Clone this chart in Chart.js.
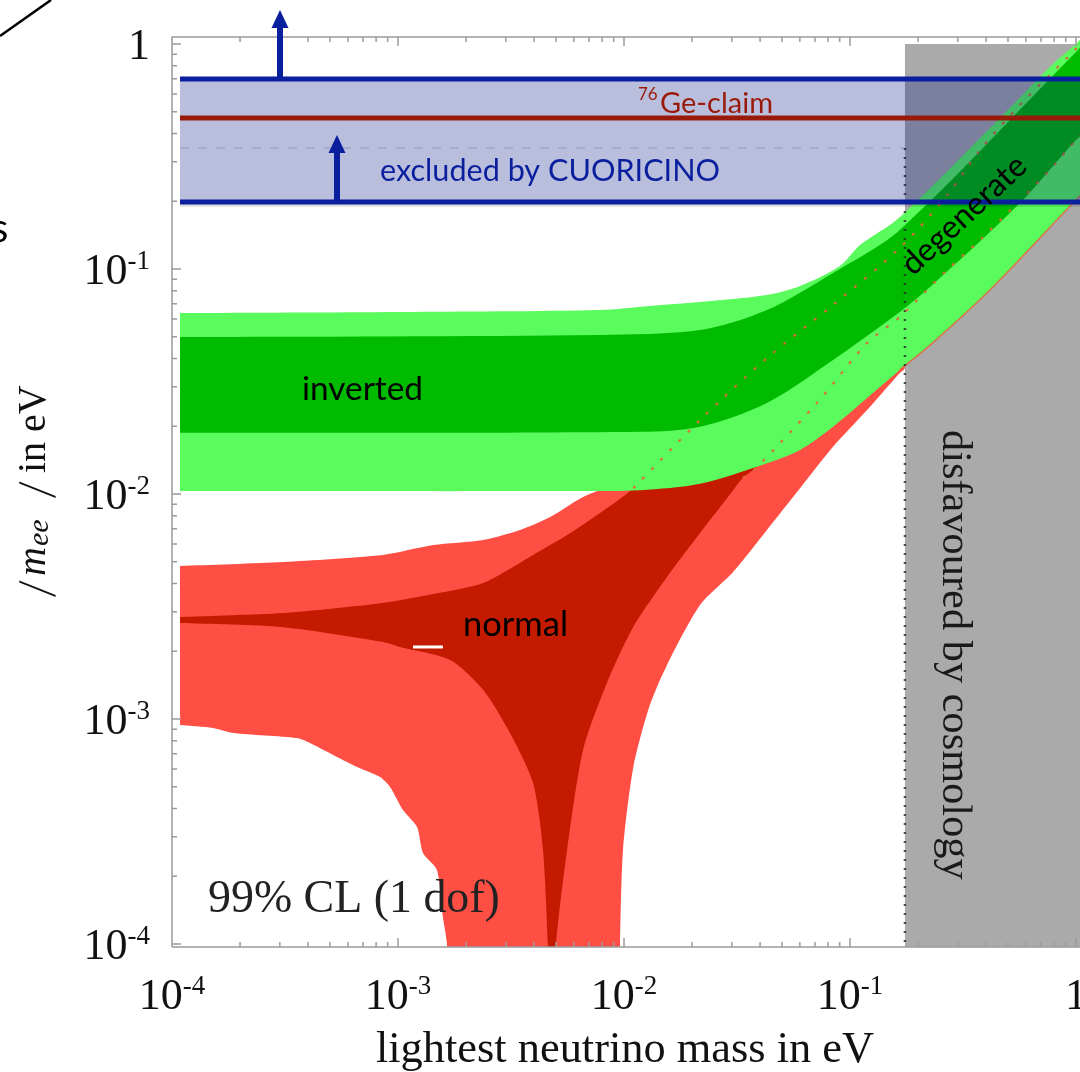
<!DOCTYPE html>
<html lang="en">
<head>
<meta charset="UTF-8">
<title>effective Majorana mass vs lightest neutrino mass</title>
<style>
  html, body { margin: 0; padding: 0; background: #fff; overflow: hidden; }
  #wrap { width: 1080px; height: 1072px; overflow: hidden; }
</style>
</head>
<body>
<div id="wrap"><canvas id="mee_chart" width="1100" height="1072"></canvas></div>
<script src="https://cdn.jsdelivr.net/npm/chart.js@4.4.1/dist/chart.umd.min.js"></script>
<script>
// axis ranges in eV
const massMin = 1e-4, massMax = 1.107;
const meeMin = 0.97e-4, meeMax = 1.074;
const decadeTicks = [1e-4, 1e-3, 1e-2, 1e-1, 1];
const tickBase = ['10', '10', '10', '10', '1'];
const tickExp = ['-4', '-3', '-2', '-1', ''];
const minorSteps = [1, 2, 3, 4, 5, 6, 7, 8, 9];

// inverted hierarchy, outer (light green) and inner (dark green) bands
// upper edges left -> right, lower edges right -> left
const inv3Upper = [[1.085e-4, 0.0637], [1.02e-3, 0.0644], [7.83e-3, 0.0657], [1.30e-2, 0.0685], [2.17e-2, 0.0714],
  [4.29e-2, 0.0766], [6.01e-2, 0.0840], [9.03e-2, 0.1031], [0.111, 0.128], [0.166, 0.170], [0.461, 0.469],
  [0.791, 0.815], [1.0, 1.0], [1.2, 1.2]];
const inv3Lower = [[1.2, 0.24], [1.0, 0.2026], [0.416, 0.0807], [0.226, 0.0459], [0.166, 0.0356], [8.41e-2, 0.0199],
  [6.01e-2, 0.0157], [4.29e-2, 0.0137], [2.17e-2, 0.0111], [1.18e-2, 0.0104], [6.38e-3, 0.0103], [1.085e-4, 0.0103]];
const inv1Upper = [[1.085e-4, 0.0498], [7.83e-3, 0.0509], [2.17e-2, 0.0535], [4.29e-2, 0.0657], [8.41e-2, 0.0960],
  [0.166, 0.149], [1.0, 0.921], [1.2, 1.1]];
const inv1Lower = [[1.2, 0.44], [1.0, 0.3745], [0.565, 0.1965], [0.226, 0.0832], [0.166, 0.0644], [8.41e-2, 0.0394],
  [4.29e-2, 0.0254], [2.17e-2, 0.0199], [1.18e-2, 0.0189], [1.085e-4, 0.0187]];

// normal hierarchy, outer (light red) and inner (dark red) bands
// (the bottom corners run a little below the axis so they are clipped square)
const norm3Upper = [[1.085e-4, 0.00479], [3.10e-4, 0.00499], [8.58e-4, 0.00536], [1.43e-3, 0.00593], [2.38e-3, 0.00625],
  [3.47e-3, 0.00692], [4.71e-3, 0.0079], [6.59e-3, 0.0097], [9.90e-3, 0.0115], [2.17e-2, 0.0213], [4.29e-2, 0.0402],
  [8.41e-2, 0.0692], [0.175, 0.1305]];
const norm3Lower = [[0.175, 0.0363], [0.166, 0.0345], [0.119, 0.0236], [8.41e-2, 0.0162], [6.01e-2, 0.0106],
  [4.29e-2, 0.00692], [3.04e-2, 0.0045], [2.17e-2, 0.00321], [1.55e-2, 0.00174], [1.30e-2, 0.00115], [1.10e-2, 0.000612],
  [9.90e-3, 0.000262], [9.60e-3, 1e-4], [9.55e-3, 6e-5], [1.66e-3, 6e-5], [1.647e-3, 1e-4], [1.58e-3, 1.32e-4],
  [1.488e-3, 2.13e-4], [1.29e-3, 2.54e-4], [1.214e-3, 3.31e-4], [1.052e-3, 3.94e-4], [9.22e-4, 4.99e-4], [8.33e-4, 5.52e-4],
  [6.59e-4, 6.12e-4], [5.37e-4, 6.78e-4], [4.08e-4, 7.82e-4], [3.57e-4, 8.23e-4], [1.862e-4, 8.67e-4], [1.518e-4, 9.12e-4],
  [1.085e-4, 9.40e-4]];
const norm1Upper = [[1.085e-4, 0.00284], [3.10e-4, 0.00296], [8.58e-4, 0.00328], [1.43e-3, 0.00359], [2.38e-3, 0.00402],
  [3.96e-3, 0.00536], [5.60e-3, 0.00657], [7.83e-3, 0.00823], [1.10e-2, 0.0106], [2.17e-2, 0.0213], [4.29e-2, 0.0402],
  [8.41e-2, 0.0692], [0.166, 0.124], [0.175, 0.1305]];
const norm1Lower = [[0.175, 0.0644], [0.119, 0.0469], [7.14e-2, 0.0254], [3.88e-2, 0.0132], [3.36e-2, 0.0118],
  [3.04e-2, 0.0104], [2.17e-2, 0.00671], [1.55e-2, 0.00428], [1.10e-2, 0.00257], [8.41e-3, 0.00145], [6.59e-3, 0.000728],
  [5.60e-3, 0.000262], [5.0e-3, 1e-4], [4.93e-3, 6e-5], [4.66e-3, 6e-5], [4.60e-3, 1e-4], [4.38e-3, 0.000262],
  [3.96e-3, 0.000519], [3.13e-3, 0.000867], [2.38e-3, 0.00135], [1.70e-3, 0.00183], [1.02e-3, 0.00209], [8.58e-4, 0.0022],
  [3.10e-4, 0.00256], [1.085e-4, 0.00267]];

// normal hierarchy edges seen through the inverted band (dotted)
const norm1UpperDotted = [[1.10e-2, 0.0106], [2.17e-2, 0.0213], [4.29e-2, 0.0402], [8.41e-2, 0.0692], [0.166, 0.124],
  [0.269, 0.213], [0.376, 0.338], [0.565, 0.536], [0.912, 0.867], [1.2, 1.15]];
const norm1LowerDotted = [[3.36e-2, 0.0118], [3.88e-2, 0.0132], [7.14e-2, 0.0254], [0.119, 0.0469], [0.166, 0.0612],
  [0.269, 0.099], [0.376, 0.1346], [0.744, 0.267], [1.0, 0.3745], [1.2, 0.44]];
const norm3EdgeInGray = [[0.166, 0.0356], [0.226, 0.0459], [0.416, 0.0807], [1.0, 0.2026], [1.2, 0.24]];
const whiteSpeck = [[1.165e-3, 0.00209], [1.58e-3, 0.00209]];

// limits
const cosmoLimit = 0.175;
const cosmoDashTop = 0.345;
const cuoricinoLow = 0.1985, cuoricinoHigh = 0.699, geClaim = 0.469;
const bandStart = 1.085e-4, bandEnd = 1.3;
const arrowMass = [3.005e-4, 5.37e-4];
const arrowBase = [0.699, 0.1985];
const arrowTip = [1.416, 0.394];

const toPoints = pairs => pairs.map(([x, y]) => ({x, y}));
const band = (upper, lower) => toPoints(upper.concat(lower));

function area(label, points, color, order, tension = 0) {
  return { label, data: points, fill: 'shape', backgroundColor: color, borderColor: 'rgba(0,0,0,0)',
    borderWidth: 0, pointRadius: 0, tension, order };
}
function curve(label, points, color, width, dash, order, tension = 0) {
  return { label, data: points, fill: false, borderColor: color, borderWidth: width, borderDash: dash,
    borderCapStyle: 'butt', pointRadius: 0, tension, order };
}

const grayBox = toPoints([[cosmoLimit, 5e-5], [cosmoLimit, 1.0], [bandEnd, 1.0], [bandEnd, 5e-5]]);
const blueBox = toPoints([[bandStart, cuoricinoLow], [bandStart, cuoricinoHigh], [bandEnd, cuoricinoHigh], [bandEnd, cuoricinoLow]]);
const shadowBox = toPoints([[bandStart, 0.189], [bandStart, cuoricinoLow], [bandEnd, cuoricinoLow], [bandEnd, 0.189]]);

const datasets = [
  area('normal 3', band(norm3Upper, norm3Lower), '#ff4f45', 30, 0.25),
  area('normal 1', band(norm1Upper, norm1Lower), '#c41b00', 29, 0.25),
  curve('speck', toPoints(whiteSpeck), '#ffffff', 3, [], 28),
  area('cosmology', grayBox, '#aaaaaa', 27),
  area('inverted 3', band(inv3Upper, inv3Lower), '#5afb5c', 25, 0.3),
  area('inverted 1', band(inv1Upper, inv1Lower), '#00bb00', 24, 0.3),
  curve('normal edge', toPoints(norm3EdgeInGray), 'rgba(232,100,60,0.85)', 1.5, [], 23, 0.3),
  curve('cosmo edge', toPoints([[cosmoLimit, cosmoDashTop], [cosmoLimit, 9e-5]]), 'rgba(40,40,40,0.8)', 2.5, [2, 7], 22),
  curve('normal upper', toPoints(norm1UpperDotted), '#e0683a', 2, [3, 10], 21, 0.3),
  curve('normal lower', toPoints(norm1LowerDotted), '#e0683a', 2, [3, 10], 20, 0.3),
  curve('grid', toPoints([[bandStart, cosmoDashTop], [cosmoLimit, cosmoDashTop]]), 'rgba(120,120,150,0.25)', 1.5, [9, 9], 19),
  area('shadow', shadowBox, 'rgba(0,0,0,0.13)', 18),
  area('CUORICINO', blueBox, 'rgba(0,15,130,0.27)', 17),
  curve('CUORICINO low', toPoints([[bandStart, cuoricinoLow], [bandEnd, cuoricinoLow]]), '#0a1f9e', 5, [], 16),
  curve('CUORICINO high', toPoints([[bandStart, cuoricinoHigh], [bandEnd, cuoricinoHigh]]), '#0a1f9e', 5, [], 15),
  curve('Ge claim', toPoints([[bandStart, geClaim], [bandEnd, geClaim]]), '#9a1a0a', 5, [], 14)
];

function fitFont(ctx, text, font, width) {
  ctx.font = font.replace('SIZE', '100px');
  return font.replace('SIZE', (100 * width / ctx.measureText(text).width).toFixed(1) + 'px');
}

function drawPow(ctx, base, exp, x, y, align) {
  ctx.font = '44px "Liberation Serif"';
  const wb = ctx.measureText(base).width;
  ctx.font = '27px "Liberation Serif"';
  const we = exp ? ctx.measureText(exp).width : 0;
  const left = align === 'right' ? x - wb - we : x - (wb + we) / 2;
  ctx.textAlign = 'left';
  ctx.font = '44px "Liberation Serif"';
  ctx.fillText(base, left, y);
  if (exp) {
    ctx.font = '27px "Liberation Serif"';
    ctx.fillText(exp, left + wb, y - 15);
  }
}

const decorations = {
  id: 'decorations',
  afterDatasetsDraw(chart) {
    const {ctx, chartArea: a, scales: {x, y}} = chart;
    ctx.save();

    // frame + inward ticks
    ctx.strokeStyle = '#9b9b9b';
    ctx.lineWidth = 1.5;
    ctx.beginPath();
    ctx.moveTo(a.left, a.bottom); ctx.lineTo(a.left, a.top); ctx.lineTo(a.right, a.top);
    ctx.moveTo(a.left, a.bottom); ctx.lineTo(a.right, a.bottom);
    decadeTicks.forEach(d => {
      minorSteps.forEach(k => {
        const v = d * k, len = k === 1 ? 9 : 5;
        if (v >= meeMin && v <= meeMax) {
          const py = y.getPixelForValue(v);
          ctx.moveTo(a.left, py); ctx.lineTo(a.left + len, py);
        }
        if (v >= massMin && v <= massMax) {
          const px = x.getPixelForValue(v);
          ctx.moveTo(px, a.top); ctx.lineTo(px, a.top + len);
          ctx.moveTo(px, a.bottom); ctx.lineTo(px, a.bottom - len);
        }
      });
    });
    ctx.stroke();

    // arrows on CUORICINO band
    ctx.fillStyle = ctx.strokeStyle = '#0a1f9e';
    ctx.lineWidth = 6;
    arrowMass.forEach((m, i) => {
      const px = x.getPixelForValue(m), p0 = y.getPixelForValue(arrowBase[i]), p1 = y.getPixelForValue(arrowTip[i]);
      ctx.beginPath(); ctx.moveTo(px, p0); ctx.lineTo(px, p1 + 14); ctx.stroke();
      ctx.beginPath(); ctx.moveTo(px, p1); ctx.lineTo(px - 8.5, p1 + 18); ctx.lineTo(px + 8.5, p1 + 18);
      ctx.closePath(); ctx.fill();
    });

    // tick labels
    ctx.fillStyle = '#111';
    decadeTicks.forEach((d, i) => {
      drawPow(ctx, tickBase[i], tickExp[i], x.getPixelForValue(d), 1009, 'center');
      drawPow(ctx, tickBase[i], tickExp[i], 150, y.getPixelForValue(d) + 15, 'right');
    });

    // axis titles
    ctx.textAlign = 'center';
    ctx.font = fitFont(ctx, 'lightest neutrino mass in eV', 'SIZE "Liberation Serif"', 498);
    ctx.fillText('lightest neutrino mass in eV', 625, 1062);

    ctx.save();
    ctx.translate(45, 603);
    ctx.rotate(-Math.PI / 2);
    ctx.textAlign = 'left';
    const bar = off => {
      ctx.save(); ctx.translate(off, 0); ctx.transform(1, 0, -0.4, 1, 0, 0);
      ctx.font = 'italic 40px "Liberation Serif"'; ctx.fillText('|', 0, 2); ctx.restore();
    };
    bar(5);
    ctx.font = 'italic 40px "Liberation Serif"'; ctx.fillText('m', 27, 0);
    ctx.font = 'italic 30px "Liberation Serif"'; ctx.fillText('ee', 57, 3);
    bar(104);
    ctx.font = '40px "Liberation Serif"'; ctx.fillText('in eV', 130, 0);
    ctx.restore();

    // annotations
    ctx.textAlign = 'left';
    ctx.fillStyle = '#000';
    ctx.font = fitFont(ctx, 'inverted', 'SIZE Lato', 121);
    ctx.fillText('inverted', 302, 400);
    ctx.font = fitFont(ctx, 'normal', 'SIZE Lato', 105);
    ctx.fillText('normal', 463, 636);
    ctx.font = fitFont(ctx, '99% CL (1 dof)', 'SIZE "Liberation Serif"', 292);
    ctx.fillStyle = '#222';
    ctx.fillText('99% CL (1 dof)', 208, 912);

    ctx.fillStyle = '#0a1f9e';
    ctx.font = fitFont(ctx, 'excluded by CUORICINO', 'SIZE Lato', 340);
    ctx.fillText('excluded by CUORICINO', 380, 181);

    ctx.fillStyle = '#9a1a0a';
    ctx.font = '17px Lato';
    ctx.fillText('76', 638, 100);
    ctx.font = fitFont(ctx, 'Ge-claim', 'SIZE Lato', 113);
    ctx.fillText('Ge-claim', 660, 113);

    ctx.fillStyle = '#000';
    ctx.save();
    ctx.translate(964, 215);
    ctx.rotate(-43 * Math.PI / 180);
    ctx.textAlign = 'center';
    ctx.textBaseline = 'middle';
    ctx.font = fitFont(ctx, 'degenerate', 'SIZE Lato', 158);
    ctx.fillText('degenerate', 0, 0);
    ctx.restore();

    ctx.save();
    ctx.translate(943, 430);
    ctx.rotate(Math.PI / 2);
    ctx.fillStyle = '#1a1a1a';
    ctx.font = fitFont(ctx, 'disfavoured by cosmology', 'SIZE "Liberation Serif"', 450);
    ctx.fillText('disfavoured by cosmology', 0, 0);
    ctx.restore();

    // slide leftovers at the top-left
    ctx.strokeStyle = '#000';
    ctx.lineWidth = 2.5;
    ctx.beginPath(); ctx.moveTo(0, 36); ctx.lineTo(51, 0); ctx.stroke();
    ctx.fillStyle = '#000';
    ctx.font = '40px Lato';
    ctx.fillText('s', -9, 242);

    ctx.restore();
  }
};

new Chart(document.getElementById('mee_chart'), {
  type: 'line',
  data: { datasets },
  options: {
    responsive: false,
    animation: false,
    events: [],
    layout: { padding: { left: 172, right: 14, top: 37, bottom: 125 } },
    plugins: { legend: { display: false }, tooltip: { enabled: false } },
    scales: {
      x: { type: 'logarithmic', min: massMin, max: massMax, display: false },
      y: { type: 'logarithmic', min: meeMin, max: meeMax, display: false }
    }
  },
  plugins: [decorations]
});
</script>
</body>
</html>
